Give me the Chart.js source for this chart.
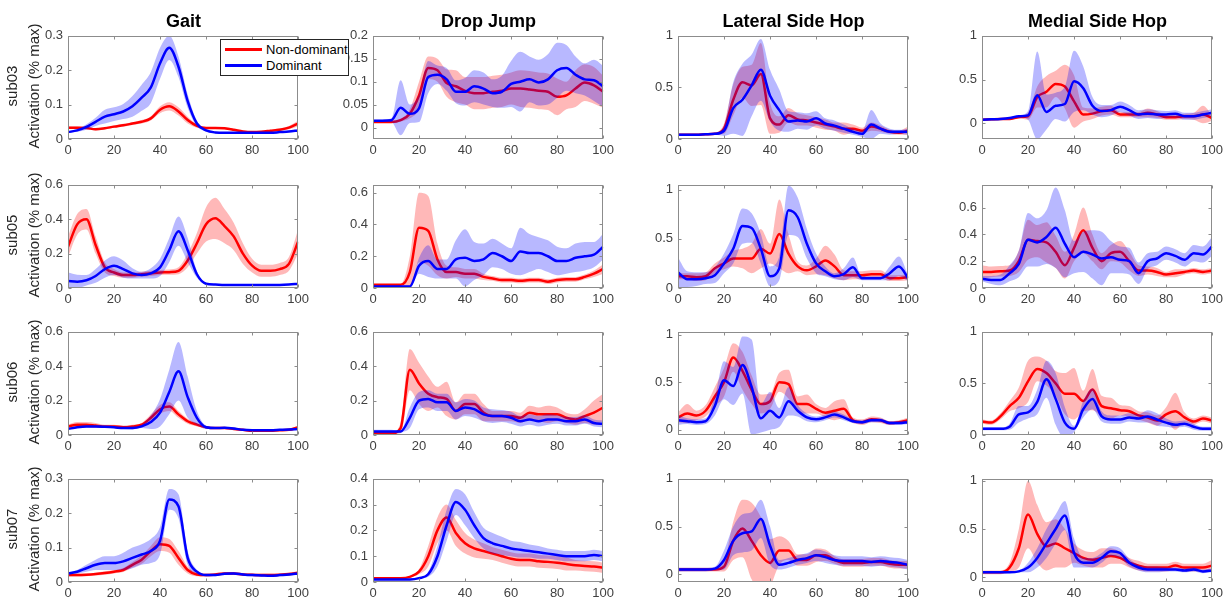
<!DOCTYPE html>
<html>
<head>
<meta charset="utf-8">
<title>EMG activation by task</title>
<script src="https://cdn.jsdelivr.net/npm/chart.js@4.4.1/dist/chart.umd.min.js"></script>
<style>
  body { margin: 0; background: #fff; font-family: 'Liberation Sans', Arial, sans-serif; }
  #fig { position: relative; width: 1230px; height: 603px; overflow: hidden; }
  #fig canvas { position: absolute; }
  .coltitle { position: absolute; font-weight: bold; font-size: 18px; line-height: 18px; text-align: center; color: #000; }
  .rowlab { position: absolute; width: 200px; height: 18px; line-height: 18px; font-size: 15px; text-align: center; color: #262626; transform: rotate(-90deg); white-space: nowrap; }
  .legend { position: absolute; left: 220px; top: 39px; width: 127px; height: 35px; background: #fff; border: 1px solid #262626; z-index: 5; font-size: 13px; color: #000; }
  .legend div { position: absolute; left: 4px; height: 16px; line-height: 16px; white-space: nowrap; }
  .legend span.ln { display: inline-block; width: 37px; height: 3px; vertical-align: middle; margin-right: 4px; position: relative; top: -1px; }
</style>
</head>
<body>
<div id="fig">
  <div class="legend">
    <div style="top:2px"><span class="ln" style="background:#ff0000"></span>Non-dominant</div>
    <div style="top:18px"><span class="ln" style="background:#0000ff"></span>Dominant</div>
  </div>
</div>
<script>
// % of movement cycle, sampled every 4 %
const pct = [0, 4, 8, 12, 16, 20, 24, 28, 32, 36, 40, 44, 48, 52, 56, 60, 64, 68, 72, 76, 80, 84, 88, 92, 96, 100];
const conditions = ['Gait', 'Drop Jump', 'Lateral Side Hop', 'Medial Side Hop'];
const subjects = ['sub03', 'sub05', 'sub06', 'sub07'];
const xTicks = [0, 20, 40, 60, 80, 100];

// y-axis limits per panel (row = subject, column = task)
const yMin  = [0, -0.025, 0, -0.18,   0, 0, 0, 0,          0, 0, -0.055, 0,   0, 0, -0.08, -0.05];
const yMax  = [0.3, 0.2, 1, 1,        0.6, 0.65, 1.05, 0.77, 0.6, 0.6, 1.03, 1, 0.3, 0.4, 1, 1.02];
const yStep = [0.1, 0.05, 0.5, 0.5,   0.2, 0.2, 0.5, 0.2,  0.2, 0.2, 0.5, 0.5, 0.1, 0.1, 0.5, 0.5];

// mean activation (Nd = non-dominant, D = dominant) and spread
const sub03GaitNd   = [0.033,0.033,0.032,0.028,0.031,0.036,0.040,0.045,0.050,0.060,0.085,0.095,0.080,0.055,0.038,0.032,0.032,0.031,0.027,0.022,0.020,0.021,0.024,0.027,0.033,0.045];
const sub03GaitNdSd = [0.003,0.003,0.003,0.003,0.003,0.003,0.004,0.004,0.005,0.006,0.010,0.012,0.012,0.010,0.005,0.003,0.003,0.003,0.003,0.003,0.003,0.003,0.003,0.004,0.005,0.008];
const sub03GaitD    = [0.020,0.025,0.035,0.050,0.065,0.072,0.080,0.095,0.120,0.150,0.220,0.265,0.210,0.110,0.045,0.025,0.019,0.018,0.018,0.018,0.018,0.018,0.018,0.020,0.022,0.025];
const sub03GaitDSd  = [0.002,0.004,0.008,0.012,0.020,0.020,0.022,0.030,0.038,0.045,0.045,0.035,0.030,0.020,0.008,0.003,0.002,0.002,0.002,0.002,0.002,0.002,0.002,0.002,0.002,0.003];

const sub03DropNd   = [0.012,0.012,0.012,0.016,0.030,0.070,0.130,0.125,0.097,0.090,0.080,0.075,0.075,0.078,0.080,0.085,0.085,0.083,0.080,0.078,0.067,0.070,0.085,0.098,0.092,0.078];
const sub03DropNdSd = [0.002,0.002,0.002,0.003,0.010,0.030,0.025,0.025,0.030,0.035,0.030,0.035,0.035,0.035,0.035,0.035,0.040,0.040,0.040,0.040,0.040,0.030,0.040,0.040,0.040,0.035];
const sub03DropD    = [0.015,0.015,0.016,0.043,0.030,0.042,0.110,0.115,0.105,0.078,0.078,0.090,0.085,0.075,0.078,0.095,0.100,0.105,0.098,0.105,0.125,0.130,0.115,0.105,0.103,0.090];
const sub03DropDSd  = [0.002,0.002,0.004,0.060,0.020,0.030,0.035,0.020,0.025,0.025,0.030,0.035,0.035,0.030,0.035,0.050,0.065,0.050,0.050,0.055,0.060,0.050,0.040,0.035,0.045,0.045];

const sub03LatNd    = [0.04,0.04,0.04,0.045,0.05,0.10,0.38,0.55,0.52,0.63,0.20,0.14,0.23,0.19,0.18,0.16,0.14,0.12,0.10,0.10,0.08,0.12,0.10,0.07,0.06,0.08];
const sub03LatNdSd  = [0.005,0.005,0.005,0.005,0.01,0.05,0.15,0.15,0.20,0.30,0.15,0.08,0.07,0.06,0.05,0.05,0.05,0.04,0.06,0.04,0.03,0.04,0.03,0.02,0.02,0.04];
const sub03LatD     = [0.04,0.04,0.04,0.045,0.05,0.08,0.30,0.38,0.52,0.67,0.42,0.28,0.17,0.18,0.17,0.20,0.15,0.13,0.10,0.07,0.05,0.14,0.10,0.07,0.07,0.07];
const sub03LatDSd   = [0.005,0.005,0.005,0.005,0.01,0.05,0.25,0.35,0.30,0.30,0.25,0.20,0.10,0.08,0.08,0.07,0.05,0.05,0.04,0.03,0.03,0.14,0.05,0.03,0.02,0.03];

const sub03MedNd    = [0.04,0.045,0.05,0.05,0.07,0.08,0.30,0.36,0.45,0.42,0.25,0.10,0.11,0.14,0.15,0.10,0.10,0.10,0.12,0.10,0.07,0.07,0.08,0.08,0.10,0.06];
const sub03MedNdSd  = [0.01,0.01,0.01,0.01,0.01,0.04,0.12,0.18,0.15,0.25,0.30,0.08,0.06,0.05,0.05,0.03,0.03,0.03,0.05,0.04,0.03,0.03,0.03,0.04,0.10,0.03];
const sub03MedD     = [0.04,0.045,0.05,0.06,0.08,0.09,0.32,0.13,0.20,0.22,0.48,0.40,0.20,0.14,0.15,0.19,0.15,0.10,0.11,0.10,0.10,0.11,0.08,0.08,0.10,0.12];
const sub03MedDSd   = [0.01,0.01,0.01,0.01,0.01,0.05,0.50,0.20,0.15,0.20,0.35,0.25,0.10,0.07,0.06,0.06,0.06,0.05,0.05,0.05,0.04,0.04,0.04,0.04,0.04,0.04];

const sub05GaitNd   = [0.24,0.37,0.40,0.25,0.12,0.09,0.075,0.075,0.08,0.085,0.09,0.092,0.10,0.16,0.26,0.37,0.405,0.36,0.30,0.20,0.13,0.10,0.10,0.11,0.14,0.27];
const sub05GaitNdSd = [0.06,0.06,0.06,0.05,0.03,0.02,0.015,0.015,0.015,0.015,0.015,0.015,0.02,0.04,0.06,0.10,0.12,0.10,0.08,0.06,0.04,0.035,0.035,0.035,0.04,0.07];
const sub05GaitD    = [0.04,0.037,0.045,0.07,0.11,0.13,0.11,0.085,0.075,0.085,0.12,0.22,0.33,0.22,0.08,0.025,0.02,0.018,0.018,0.018,0.018,0.018,0.018,0.018,0.02,0.025];
const sub05GaitDSd  = [0.05,0.04,0.03,0.04,0.05,0.055,0.05,0.03,0.02,0.03,0.05,0.07,0.085,0.07,0.02,0.003,0.002,0.002,0.002,0.002,0.002,0.002,0.002,0.002,0.002,0.003];

const sub05DropNd   = [0.02,0.02,0.02,0.02,0.10,0.38,0.36,0.18,0.10,0.10,0.09,0.09,0.07,0.06,0.05,0.05,0.045,0.05,0.05,0.04,0.05,0.055,0.055,0.07,0.09,0.12];
const sub05DropNdSd = [0.005,0.005,0.005,0.005,0.10,0.22,0.22,0.10,0.04,0.03,0.03,0.03,0.02,0.015,0.015,0.015,0.015,0.015,0.015,0.015,0.015,0.015,0.015,0.015,0.02,0.03];
const sub05DropD    = [0.01,0.01,0.01,0.01,0.01,0.14,0.17,0.12,0.12,0.18,0.19,0.17,0.18,0.22,0.20,0.17,0.23,0.22,0.22,0.20,0.17,0.17,0.19,0.20,0.21,0.26];
const sub05DropDSd  = [0.005,0.005,0.005,0.005,0.005,0.05,0.10,0.06,0.06,0.12,0.18,0.12,0.10,0.09,0.08,0.08,0.15,0.12,0.10,0.10,0.09,0.08,0.09,0.09,0.08,0.08];

const sub05LatNd    = [0.12,0.12,0.11,0.12,0.20,0.25,0.30,0.30,0.30,0.40,0.35,0.55,0.35,0.22,0.18,0.22,0.28,0.22,0.13,0.13,0.13,0.14,0.14,0.10,0.10,0.11];
const sub05LatNdSd  = [0.03,0.03,0.04,0.04,0.05,0.06,0.08,0.10,0.15,0.20,0.10,0.35,0.20,0.05,0.05,0.08,0.15,0.12,0.05,0.04,0.04,0.04,0.04,0.03,0.03,0.03];
const sub05LatD     = [0.16,0.09,0.09,0.10,0.13,0.25,0.40,0.63,0.61,0.40,0.12,0.20,0.79,0.72,0.45,0.25,0.17,0.12,0.14,0.21,0.10,0.10,0.10,0.15,0.22,0.10];
const sub05LatDSd   = [0.15,0.08,0.07,0.06,0.08,0.10,0.15,0.18,0.15,0.15,0.10,0.12,0.25,0.20,0.15,0.10,0.05,0.03,0.06,0.10,0.02,0.02,0.02,0.07,0.10,0.03];

const sub05MedNd    = [0.12,0.12,0.125,0.13,0.20,0.36,0.35,0.34,0.27,0.17,0.30,0.43,0.30,0.20,0.26,0.27,0.20,0.13,0.13,0.12,0.10,0.11,0.12,0.13,0.12,0.13];
const sub05MedNdSd  = [0.05,0.04,0.04,0.04,0.08,0.15,0.12,0.15,0.12,0.10,0.10,0.17,0.10,0.06,0.06,0.08,0.07,0.04,0.03,0.03,0.02,0.03,0.02,0.02,0.02,0.02];
const sub05MedD     = [0.07,0.06,0.06,0.11,0.18,0.36,0.34,0.38,0.45,0.33,0.23,0.27,0.25,0.22,0.23,0.21,0.20,0.11,0.20,0.22,0.26,0.24,0.21,0.26,0.25,0.31];
const sub05MedDSd   = [0.02,0.03,0.04,0.06,0.10,0.20,0.18,0.20,0.30,0.25,0.12,0.15,0.18,0.20,0.12,0.10,0.10,0.08,0.06,0.05,0.05,0.05,0.05,0.06,0.06,0.07];

const sub06GaitNd   = [0.05,0.06,0.06,0.055,0.05,0.05,0.045,0.05,0.06,0.10,0.15,0.165,0.12,0.08,0.06,0.045,0.04,0.04,0.035,0.03,0.025,0.025,0.025,0.028,0.03,0.045];
const sub06GaitNdSd = [0.01,0.015,0.015,0.015,0.01,0.01,0.01,0.01,0.01,0.02,0.025,0.025,0.02,0.015,0.01,0.005,0.005,0.005,0.005,0.005,0.005,0.005,0.005,0.005,0.005,0.01];
const sub06GaitD    = [0.035,0.045,0.05,0.05,0.048,0.045,0.04,0.04,0.05,0.075,0.13,0.25,0.37,0.22,0.10,0.045,0.04,0.042,0.038,0.03,0.028,0.028,0.028,0.03,0.032,0.035];
const sub06GaitDSd  = [0.005,0.005,0.005,0.005,0.005,0.005,0.005,0.008,0.01,0.04,0.08,0.13,0.17,0.12,0.04,0.01,0.005,0.005,0.005,0.005,0.005,0.005,0.005,0.005,0.005,0.005];

const sub06DropNd   = [0.01,0.01,0.01,0.04,0.38,0.30,0.24,0.22,0.21,0.14,0.18,0.18,0.13,0.11,0.11,0.11,0.10,0.13,0.12,0.12,0.12,0.10,0.09,0.11,0.13,0.16];
const sub06DropNdSd = [0.005,0.005,0.005,0.03,0.12,0.12,0.10,0.06,0.10,0.05,0.06,0.06,0.05,0.03,0.03,0.03,0.03,0.04,0.04,0.05,0.04,0.03,0.03,0.04,0.07,0.08];
const sub06DropD    = [0.02,0.02,0.02,0.02,0.10,0.20,0.21,0.19,0.19,0.14,0.16,0.15,0.12,0.11,0.11,0.10,0.08,0.09,0.08,0.09,0.09,0.08,0.08,0.09,0.07,0.065];
const sub06DropDSd  = [0.01,0.01,0.01,0.005,0.06,0.05,0.05,0.05,0.05,0.05,0.05,0.05,0.04,0.04,0.035,0.035,0.03,0.03,0.03,0.03,0.025,0.025,0.025,0.025,0.02,0.02];

const sub06LatNd    = [0.13,0.17,0.15,0.20,0.35,0.50,0.76,0.62,0.42,0.27,0.30,0.50,0.48,0.27,0.27,0.22,0.18,0.20,0.22,0.10,0.08,0.11,0.10,0.07,0.08,0.10];
const sub06LatNdSd  = [0.05,0.10,0.05,0.06,0.10,0.15,0.15,0.20,0.15,0.10,0.08,0.10,0.15,0.08,0.10,0.05,0.05,0.10,0.10,0.03,0.03,0.03,0.03,0.02,0.02,0.03];
const sub06LatD     = [0.10,0.09,0.08,0.09,0.25,0.52,0.46,0.68,0.45,0.12,0.20,0.13,0.30,0.20,0.13,0.11,0.13,0.16,0.13,0.09,0.08,0.10,0.10,0.07,0.07,0.08];
const sub06LatDSd   = [0.05,0.03,0.03,0.03,0.10,0.20,0.20,0.30,0.50,0.15,0.20,0.10,0.15,0.06,0.04,0.03,0.03,0.03,0.03,0.02,0.02,0.02,0.02,0.02,0.02,0.02];

const sub06MedNd    = [0.13,0.12,0.18,0.28,0.36,0.52,0.64,0.60,0.50,0.40,0.40,0.33,0.44,0.28,0.26,0.24,0.23,0.19,0.17,0.14,0.20,0.23,0.17,0.13,0.16,0.14];
const sub06MedNdSd  = [0.02,0.02,0.03,0.05,0.10,0.20,0.12,0.12,0.12,0.20,0.25,0.10,0.20,0.10,0.10,0.05,0.05,0.04,0.05,0.05,0.07,0.18,0.05,0.03,0.03,0.03];
const sub06MedD     = [0.06,0.06,0.06,0.08,0.20,0.22,0.32,0.54,0.35,0.12,0.06,0.25,0.35,0.18,0.15,0.15,0.17,0.16,0.18,0.15,0.12,0.10,0.11,0.08,0.06,0.06];
const sub06MedDSd   = [0.015,0.015,0.015,0.03,0.08,0.06,0.12,0.18,0.25,0.15,0.03,0.08,0.10,0.05,0.04,0.04,0.04,0.04,0.06,0.06,0.04,0.03,0.03,0.03,0.02,0.02];

const sub07GaitNd   = [0.02,0.02,0.021,0.023,0.026,0.03,0.035,0.05,0.065,0.09,0.11,0.105,0.07,0.035,0.022,0.02,0.022,0.025,0.025,0.022,0.021,0.02,0.02,0.021,0.023,0.027];
const sub07GaitNdSd = [0.004,0.004,0.004,0.004,0.005,0.005,0.006,0.008,0.012,0.015,0.02,0.02,0.02,0.01,0.005,0.004,0.004,0.004,0.004,0.004,0.004,0.004,0.004,0.004,0.004,0.005];
const sub07GaitD    = [0.025,0.03,0.04,0.05,0.055,0.055,0.06,0.07,0.08,0.09,0.12,0.24,0.22,0.07,0.03,0.02,0.02,0.024,0.025,0.022,0.02,0.019,0.018,0.02,0.022,0.025];
const sub07GaitDSd  = [0.003,0.005,0.01,0.015,0.02,0.02,0.025,0.03,0.03,0.035,0.04,0.03,0.035,0.02,0.005,0.003,0.003,0.003,0.003,0.003,0.003,0.003,0.003,0.003,0.003,0.003];

const sub07DropNd   = [0.015,0.015,0.015,0.015,0.02,0.04,0.10,0.20,0.25,0.19,0.15,0.13,0.12,0.11,0.10,0.09,0.085,0.085,0.08,0.078,0.075,0.07,0.065,0.062,0.06,0.055];
const sub07DropNdSd = [0.003,0.003,0.003,0.003,0.003,0.01,0.04,0.05,0.05,0.05,0.04,0.035,0.03,0.025,0.025,0.025,0.025,0.025,0.025,0.025,0.025,0.025,0.02,0.02,0.02,0.02];
const sub07DropD    = [0.01,0.01,0.01,0.01,0.01,0.015,0.03,0.10,0.22,0.31,0.28,0.22,0.17,0.15,0.14,0.13,0.125,0.12,0.115,0.11,0.105,0.10,0.10,0.10,0.105,0.10];
const sub07DropDSd  = [0.003,0.003,0.003,0.003,0.003,0.003,0.01,0.04,0.06,0.05,0.06,0.05,0.04,0.04,0.035,0.03,0.03,0.025,0.025,0.02,0.02,0.02,0.02,0.02,0.02,0.02];

const sub07LatNd    = [0.05,0.05,0.05,0.05,0.05,0.08,0.35,0.48,0.35,0.20,0.12,0.25,0.25,0.15,0.15,0.20,0.20,0.15,0.12,0.12,0.12,0.13,0.13,0.11,0.10,0.10];
const sub07LatNdSd  = [0.02,0.02,0.02,0.02,0.02,0.05,0.20,0.30,0.40,0.40,0.25,0.15,0.10,0.06,0.06,0.07,0.06,0.04,0.04,0.04,0.04,0.04,0.04,0.04,0.04,0.04];
const sub07LatD     = [0.05,0.05,0.05,0.05,0.06,0.15,0.35,0.43,0.45,0.58,0.30,0.10,0.12,0.15,0.17,0.20,0.18,0.15,0.14,0.14,0.14,0.13,0.14,0.13,0.12,0.10];
const sub07LatDSd   = [0.02,0.02,0.02,0.02,0.02,0.10,0.15,0.20,0.20,0.20,0.20,0.05,0.05,0.05,0.05,0.06,0.06,0.05,0.05,0.05,0.05,0.05,0.05,0.05,0.05,0.05];

const sub07MedNd    = [0.05,0.05,0.05,0.10,0.30,0.65,0.45,0.32,0.35,0.30,0.25,0.20,0.18,0.20,0.22,0.20,0.15,0.12,0.10,0.10,0.10,0.12,0.10,0.10,0.10,0.12];
const sub07MedNdSd  = [0.02,0.02,0.02,0.05,0.20,0.35,0.30,0.25,0.25,0.20,0.10,0.08,0.08,0.10,0.08,0.06,0.05,0.05,0.04,0.04,0.04,0.04,0.04,0.04,0.04,0.06];
const sub07MedD     = [0.05,0.05,0.05,0.05,0.06,0.10,0.20,0.35,0.50,0.64,0.25,0.15,0.15,0.20,0.27,0.25,0.15,0.10,0.08,0.08,0.08,0.08,0.07,0.08,0.06,0.07];
const sub07MedDSd   = [0.01,0.01,0.01,0.01,0.01,0.05,0.10,0.15,0.15,0.15,0.15,0.05,0.05,0.05,0.05,0.05,0.04,0.03,0.03,0.03,0.02,0.02,0.02,0.02,0.02,0.02];

// [nd mean, nd spread, d mean, d spread] per panel, row-major
const panelSeries = [
  [sub03GaitNd, sub03GaitNdSd, sub03GaitD, sub03GaitDSd], [sub03DropNd, sub03DropNdSd, sub03DropD, sub03DropDSd],
  [sub03LatNd, sub03LatNdSd, sub03LatD, sub03LatDSd],     [sub03MedNd, sub03MedNdSd, sub03MedD, sub03MedDSd],
  [sub05GaitNd, sub05GaitNdSd, sub05GaitD, sub05GaitDSd], [sub05DropNd, sub05DropNdSd, sub05DropD, sub05DropDSd],
  [sub05LatNd, sub05LatNdSd, sub05LatD, sub05LatDSd],     [sub05MedNd, sub05MedNdSd, sub05MedD, sub05MedDSd],
  [sub06GaitNd, sub06GaitNdSd, sub06GaitD, sub06GaitDSd], [sub06DropNd, sub06DropNdSd, sub06DropD, sub06DropDSd],
  [sub06LatNd, sub06LatNdSd, sub06LatD, sub06LatDSd],     [sub06MedNd, sub06MedNdSd, sub06MedD, sub06MedDSd],
  [sub07GaitNd, sub07GaitNdSd, sub07GaitD, sub07GaitDSd], [sub07DropNd, sub07DropNdSd, sub07DropD, sub07DropDSd],
  [sub07LatNd, sub07LatNdSd, sub07LatD, sub07LatDSd],     [sub07MedNd, sub07MedNdSd, sub07MedD, sub07MedDSd]
];

// grid geometry (plot-area corners in page pixels)
const COL_LEFT = [68, 373, 678, 982];
const ROW_TOP = [33, 182, 329, 476];
const PLOT_W = 231, PLOT_H = 106;
const YW = 60, XH = 22, TP = 10, RP = 14;

const RED = '#ff0000', BLUE = '#0000ff';
const RED_BAND = 'rgba(255, 0, 0, 0.28)', BLUE_BAND = 'rgba(0, 0, 255, 0.28)';
const TICK_FONT = { family: "'Liberation Sans', Arial, sans-serif", size: 13 };

Chart.defaults.font.family = "'Liberation Sans', Arial, sans-serif";

// boxed axes with short inward ticks on all four sides
const boxAxes = {
  id: 'boxAxes',
  afterDraw(chart) {
    const { ctx, chartArea: a, scales: { x, y } } = chart;
    const L = Math.round(a.left) + 0.5, R = Math.round(a.right) - 0.5;
    const T = Math.round(a.top) + 0.5, B = Math.round(a.bottom) - 0.5;
    ctx.save();
    ctx.strokeStyle = '#8c8c8c';
    ctx.lineWidth = 1;
    ctx.strokeRect(L, T, R - L, B - T);
    ctx.beginPath();
    x.ticks.forEach(t => {
      const px = Math.round(x.getPixelForValue(t.value)) + 0.5;
      ctx.moveTo(px, B); ctx.lineTo(px, B - 3);
      ctx.moveTo(px, T); ctx.lineTo(px, T + 3);
    });
    y.ticks.forEach(t => {
      const py = Math.round(y.getPixelForValue(t.value)) + 0.5;
      ctx.moveTo(L, py); ctx.lineTo(L + 3, py);
      ctx.moveTo(R, py); ctx.lineTo(R - 3, py);
    });
    ctx.stroke();
    ctx.restore();
  }
};

const toPts = ys => ys.map((v, i) => ({ x: pct[i], y: v }));
const shift = (m, s, k) => m.map((v, i) => v + k * s[i]);
const fmt = v => String(+(+v).toFixed(3));

function meanLine(data, color, order) {
  return { data: toPts(data), borderColor: color, borderWidth: 2.5, pointRadius: 0,
           fill: false, cubicInterpolationMode: 'monotone', order };
}
function bandEdge(data, color, fill, order) {
  return { data: toPts(data), borderWidth: 0, borderColor: 'transparent', pointRadius: 0,
           backgroundColor: color, fill, cubicInterpolationMode: 'monotone', order };
}

const fig = document.getElementById('fig');

panelSeries.forEach((s, p) => {
  const r = Math.floor(p / 4), c = p % 4;
  const [nd, ndSd, d, dSd] = s;
  const canvas = document.createElement('canvas');
  canvas.width = YW + PLOT_W + RP;
  canvas.height = TP + PLOT_H + XH;
  canvas.style.left = (COL_LEFT[c] - YW) + 'px';
  canvas.style.top = (ROW_TOP[r] - TP) + 'px';
  fig.appendChild(canvas);

  new Chart(canvas, {
    type: 'line',
    data: {
      datasets: [
        meanLine(d, BLUE, 1),
        bandEdge(shift(d, dSd, 1), BLUE_BAND, '+1', 2),
        bandEdge(shift(d, dSd, -1), BLUE_BAND, false, 3),
        meanLine(nd, RED, 4),
        bandEdge(shift(nd, ndSd, 1), RED_BAND, '+1', 5),
        bandEdge(shift(nd, ndSd, -1), RED_BAND, false, 6)
      ]
    },
    options: {
      responsive: false,
      animation: false,
      events: [],
      layout: { padding: { top: TP, right: RP, left: 0, bottom: 0 } },
      plugins: { legend: { display: false }, tooltip: { enabled: false } },
      scales: {
        x: {
          type: 'linear', min: 0, max: 100,
          grid: { display: false, drawTicks: false }, border: { display: false },
          ticks: { stepSize: 20, color: '#404040', font: TICK_FONT, padding: 4, maxRotation: 0,
                   callback: v => xTicks.includes(v) ? fmt(v) : null },
          afterFit: sc => { sc.height = XH; }
        },
        y: {
          min: yMin[p], max: yMax[p],
          grid: { display: false, drawTicks: false }, border: { display: false },
          ticks: { stepSize: yStep[p], includeBounds: false, color: '#404040', font: TICK_FONT, padding: 5,
                   callback: v => fmt(v) },
          afterFit: sc => { sc.width = YW; }
        }
      }
    },
    plugins: [boxAxes]
  });
});

// column titles and row labels
conditions.forEach((name, c) => {
  const el = document.createElement('div');
  el.className = 'coltitle';
  el.textContent = name;
  el.style.left = COL_LEFT[c] + 'px';
  el.style.width = PLOT_W + 'px';
  el.style.top = '12px';
  fig.appendChild(el);
});
subjects.forEach((name, r) => {
  const cy = ROW_TOP[r] + PLOT_H / 2;
  [[name, 12], ['Activation (% max)', 34]].forEach(([txt, cx]) => {
    const el = document.createElement('div');
    el.className = 'rowlab';
    el.textContent = txt;
    el.style.left = (cx - 100) + 'px';
    el.style.top = (cy - 9) + 'px';
    fig.appendChild(el);
  });
});
</script>
</body>
</html>
